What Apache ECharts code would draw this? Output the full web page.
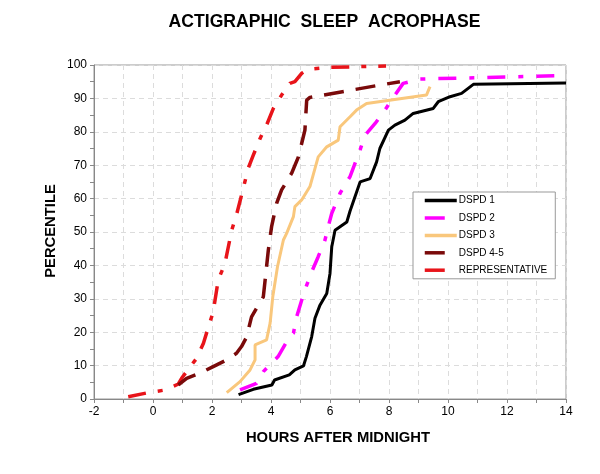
<!DOCTYPE html>
<html>
<head>
<meta charset="utf-8">
<script src="https://cdn.jsdelivr.net/npm/echarts@6/dist/echarts.min.js"></script>
<style>
html,body{margin:0;padding:0;background:#fff;}
#chart{width:600px;height:474px;}
</style>
</head>
<body>
<div id="chart"></div>
<script>
// ---- Data (hours after midnight, percentile) ----
const seriesNames = ['DSPD 1', 'DSPD 2', 'DSPD 3', 'DSPD 4-5', 'REPRESENTATIVE'];

const dspd1Hours = [2.9, 3.4, 4.03, 4.12, 4.62, 4.81, 5.1, 5.2, 5.38, 5.49, 5.66, 5.89, 6.0, 6.06, 6.17, 6.57, 6.68, 7.02, 7.36, 7.58, 7.69, 7.98, 8.2, 8.54, 8.82, 9.5, 9.67, 10.07, 10.46, 10.86, 14];
const dspd1Pct   = [1.3, 2.9, 4.2, 5.7, 7.2, 8.7, 9.9, 12.7, 18.7, 24.2, 28.1, 31.6, 37.6, 45.6, 50.5, 53, 56.3, 65, 66, 71, 75, 80.5, 82, 83.5, 85.5, 87, 89, 90.5, 91.5, 94.2, 94.6];

const dspd2Hours = [2.95, 3.51, 3.74, 3.85, 4.24, 4.47, 4.64, 4.76, 4.87, 5.04, 5.21, 5.38, 5.6, 5.83, 5.94, 6.06, 6.34, 6.68, 7.02, 7.19, 7.53, 7.86, 8.09, 8.2, 8.48, 9.05, 11, 13.7];
const dspd2Pct   = [2.7, 4.7, 8.2, 9.2, 12.7, 16.2, 18.7, 19.7, 24.6, 29.6, 34.1, 38.1, 42.6, 47.6, 51.6, 55.6, 61.6, 66.6, 74.6, 79, 82.5, 86.5, 89.5, 91, 94.5, 95.8, 96.2, 96.8];

const dspd3Hours = [2.5, 2.95, 3.29, 3.46, 3.46, 3.85, 3.97, 4.06, 4.22, 4.42, 4.53, 4.76, 4.81, 5.04, 5.32, 5.6, 5.89, 6.28, 6.34, 6.68, 6.9, 7.24, 9.27, 9.39];
const dspd3Pct   = [1.9, 5.2, 8.7, 11.7, 16.2, 17.7, 22.7, 30.6, 39.6, 47.6, 49.6, 54.6, 57.6, 59.6, 63.6, 72.5, 75.5, 77.5, 81.5, 84.5, 86.5, 88.5, 91, 93.5];

const dspd45Hours = [0.86, 1.14, 1.59, 2.04, 2.5, 2.83, 3.0, 3.17, 3.34, 3.74, 3.91, 4.02, 4.19, 4.36, 4.7, 4.93, 5.15, 5.21, 5.32, 5.77, 7.7, 8.37];
const dspd45Pct   = [4.2, 6.2, 7.7, 9.7, 11.7, 13.7, 15.7, 18.5, 24.6, 30.6, 44.6, 51.6, 58.6, 62.6, 67.6, 72.5, 80.5, 89.5, 90.3, 91, 94, 95];

const reprHours = [-0.84, -0.16, 0.41, 0.86, 0.97, 1.48, 1.71, 1.88, 2.04, 2.21, 2.44, 2.67, 2.83, 3.06, 3.23, 3.4, 3.63, 3.85, 4.08, 4.36, 4.64, 4.81, 5.04, 5.26, 6.0, 7.9];
const reprPct   = [0.7, 1.9, 2.7, 4.5, 6.2, 12.2, 16.7, 21.6, 26.1, 35.6, 40.6, 50.6, 55.1, 63.1, 69.1, 73, 78, 82, 87, 91, 94.5, 95, 97.5, 98.7, 99.3, 99.7];

const xTickLabels = ['-2', '0', '2', '4', '6', '8', '10', '12', '14'];
const yTickLabels = ['0', '10', '20', '30', '40', '50', '60', '70', '80', '90', '100'];

function zip(xs, ys) { return xs.map((x, i) => [x, ys[i]]); }

const seriesData = [
  zip(dspd1Hours, dspd1Pct),
  zip(dspd2Hours, dspd2Pct),
  zip(dspd3Hours, dspd3Pct),
  zip(dspd45Hours, dspd45Pct),
  zip(reprHours, reprPct)
];
const colors = ['#000000', '#FF00FF', '#F9C77C', '#7A0A0A', '#E8141A'];
const lineTypes = ['solid', [18, 13, 5, 13], 'solid', [20, 12], [18, 12, 5, 12]];
const legendLineTypes = ['solid', [20, 20], 'solid', [20, 20], [20, 20]];
const widths = [3, 3.5, 3, 3.5, 3.5];
const order = [4, 3, 2, 1, 0];

const chart = echarts.init(document.getElementById('chart'), null, {renderer: 'canvas'});
const font = 'Liberation Sans, Arial, Helvetica, sans-serif';

chart.setOption({
  animation: false,
  backgroundColor: '#ffffff',
  grid: {left: 94, right: 34, top: 65, bottom: 75, show: true, borderColor: '#999', borderWidth: 1},
  legend: {
    orient: 'vertical', left: 413, top: 192,
    data: seriesNames.map((n, i) => ({
      name: n,
      lineStyle: {type: legendLineTypes[i], width: 3.5, color: colors[i]}
    })),
    backgroundColor: '#fff',
    borderColor: '#999', borderWidth: 1,
    padding: [3, 8, 3, 10],
    itemWidth: 32, itemHeight: 14, itemGap: 6.2,
    itemStyle: {opacity: 0, color: 'transparent', borderWidth: 0},
    textStyle: {fontFamily: font, fontSize: 10, color: '#000', padding: [0, 0, 0, -3]}
  },
  xAxis: {
    type: 'value', min: -2, max: 14, interval: 1,
    axisLine: {onZero: false, lineStyle: {color: '#888'}},
    axisTick: {show: true, length: 4, lineStyle: {color: '#888'}},
    axisLabel: {
      fontFamily: font, fontSize: 12, color: '#000', margin: 7,
      formatter: v => { const s = String(v); return xTickLabels.indexOf(s) >= 0 ? s : ''; }
    },
    splitLine: {show: true, lineStyle: {color: '#dcdcdc', type: [5, 4], width: 1}}
  },
  yAxis: {
    type: 'value', min: 0, max: 100, interval: 10,
    axisLine: {show: true, onZero: false, lineStyle: {color: '#888'}},
    axisTick: {show: true, length: 4, lineStyle: {color: '#888'}},
    minorTick: {show: true, splitNumber: 2, length: 4, lineStyle: {color: '#888'}},
    axisLabel: {
      fontFamily: font, fontSize: 12, color: '#000', margin: 7,
      formatter: v => { const s = String(v); return yTickLabels.indexOf(s) >= 0 ? s : ''; }
    },
    splitLine: {show: true, lineStyle: {color: '#dcdcdc', type: [5, 4], width: 1}}
  },
  graphic: [
    {type: 'text', x: 324.5, y: 22,
     style: {text: 'ACTIGRAPHIC  SLEEP  ACROPHASE', font: 'bold 17.6px ' + font, fill: '#000', align: 'center', verticalAlign: 'middle'}},
    {type: 'text', x: 338, y: 438,
     style: {text: 'HOURS AFTER MIDNIGHT', font: 'bold 14.8px ' + font, fill: '#000', align: 'center', verticalAlign: 'middle'}},
    {type: 'text', x: 51, y: 231, rotation: Math.PI / 2,
     style: {text: 'PERCENTILE', font: 'bold 14.8px ' + font, fill: '#000', align: 'center', verticalAlign: 'middle'}}
  ],
  series: order.map(i => ({
    name: seriesNames[i],
    type: 'line',
    data: seriesData[i],
    showSymbol: false,
    symbol: 'none',
    color: colors[i],
    lineStyle: {color: colors[i], width: widths[i], type: lineTypes[i]},
    z: 2
  }))
});
</script>
</body>
</html>
